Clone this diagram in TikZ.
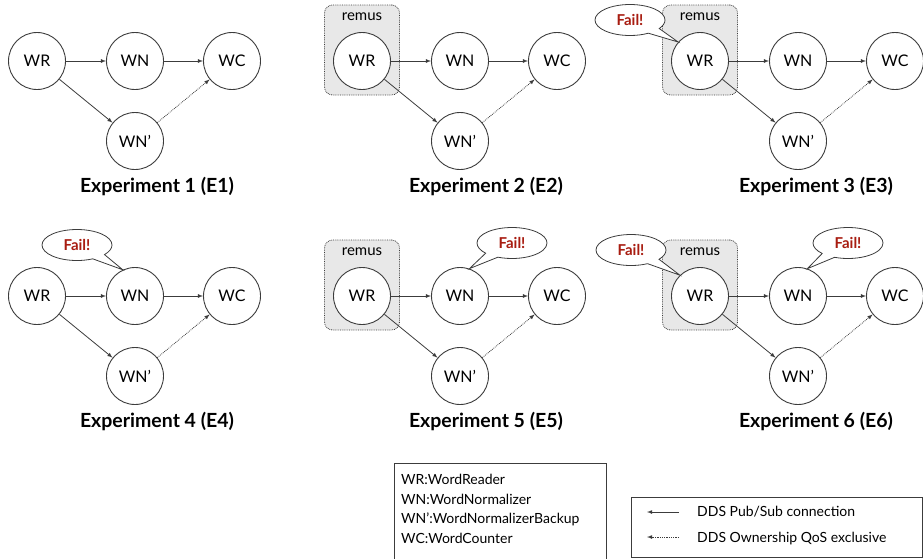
\documentclass[tikz,border=0pt]{standalone}
\usepackage{fontspec}
\setmainfont{Lato}
\usetikzlibrary{arrows,shapes.callouts,positioning}
\definecolor{failred}{RGB}{168,28,16}
\definecolor{remusgray}{RGB}{232,232,232}
\definecolor{linegray}{RGB}{60,60,60}

\tikzset{
  comp/.style={circle,draw=linegray,line width=0.9pt,fill=white,minimum size=57pt,inner sep=0pt,font=\fontsize{16}{16}\selectfont},
  pubsub/.style={-latex,linegray,line width=0.8pt},
  owner/.style={-latex,densely dotted,linegray,line width=0.8pt},
  remusbox/.style={draw=linegray,densely dotted,line width=0.8pt,rounded corners=8pt,fill=remusgray,minimum width=75pt,minimum height=90pt},
  remustext/.style={inner sep=0pt,font=\fontsize{15}{15}\selectfont},
  failnote/.style={ellipse callout,callout pointer arc=25,draw=linegray,line width=0.8pt,fill=white,minimum width=70pt,minimum height=31pt,inner sep=0pt,font=\fontsize{15}{15}\selectfont\bfseries,text=failred},
  explabel/.style={font=\fontsize{19.5}{19.5}\selectfont\bfseries},
  keytext/.style={inner sep=0pt,anchor=base west,font=\fontsize{14}{14}\selectfont},
}

\begin{document}
\begin{tikzpicture}[x=1pt,y=-1pt]
      \useasboundingbox (0,0) rectangle (923,558);
      % machine remus
      \foreach \n/\sx/\sy in {2/325/0,3/663/0,5/325/235,6/663/235} {
        \node[remusbox] (remus\n) at (37+\sx,50+\sy) {};
        \node[remustext,below=8pt of remus\n.north] (remuslbl\n) {remus};
      }
      % the six experiments
      \foreach \n/\sx/\sy/\lx in {1/0/0/157,2/325/0/486,3/663/0/816,4/0/235/157,5/325/235/486,6/663/235/816} {
        \node[comp] (wr\n) at (37+\sx,61+\sy) {WR};
        \node[comp] (wn\n) at (135+\sx,61+\sy) {WN};
        \node[comp] (wc\n) at (232+\sx,61+\sy) {WC};
        \node[comp] (wnb\n) at (135+\sx,141+\sy) {WN'};
        \draw[pubsub] (wr\n) -- (wn\n);
        \draw[pubsub] (wn\n) -- (wc\n);
        \draw[pubsub] (wr\n) -- (wnb\n);
        \draw[owner] (wnb\n) -- (wc\n);
        \node[explabel] (exp\n) at (\lx,186+\sy) {Experiment \n{} (E\n)};
      }
      % failures
      \node[failnote,callout absolute pointer={(wr3.139)}] (fail3) at (630,20) {Fail!};
      \node[failnote,callout absolute pointer={(wn4.115)}] (fail4) at (77,245) {Fail!};
      \node[failnote,callout absolute pointer={(wn5.71)}] (fail5) at (512,243) {Fail!};
      \node[failnote,callout absolute pointer={(wr6.134)}] (fail6a) at (631,250) {Fail!};
      \node[failnote,callout absolute pointer={(wn6.71)}] (fail6b) at (848,243) {Fail!};
      % legends
      \node[draw=linegray,line width=0.8pt,anchor=north west,minimum width=212pt,minimum height=105pt] (namebox) at (394,463) {};
      \node[keytext] (keywr) at (401,484) {WR:WordReader};
      \node[keytext] (keywn) at (401,504) {WN:WordNormalizer};
      \node[keytext] (keywnb) at (401,523) {WN':WordNormalizerBackup};
      \node[keytext] (keywc) at (401,543) {WC:WordCounter};
      \node[draw=linegray,line width=0.8pt,anchor=north west,minimum width=291pt,minimum height=60pt] (linkbox) at (631,497) {};
      \node[keytext] (keypubsub) at (697,516) {DDS Pub/Sub connection};
      \node[keytext] (keyowner) at (697,542) {DDS Ownership QoS exclusive};
      \coordinate (pubsubA) at (679,512);
      \coordinate (pubsubB) at (647,512);
      \coordinate (ownerA) at (679,537);
      \coordinate (ownerB) at (647,537);
      \draw[pubsub] (pubsubA) -- (pubsubB);
      \draw[owner] (ownerA) -- (ownerB);
\end{tikzpicture}
\end{document}
